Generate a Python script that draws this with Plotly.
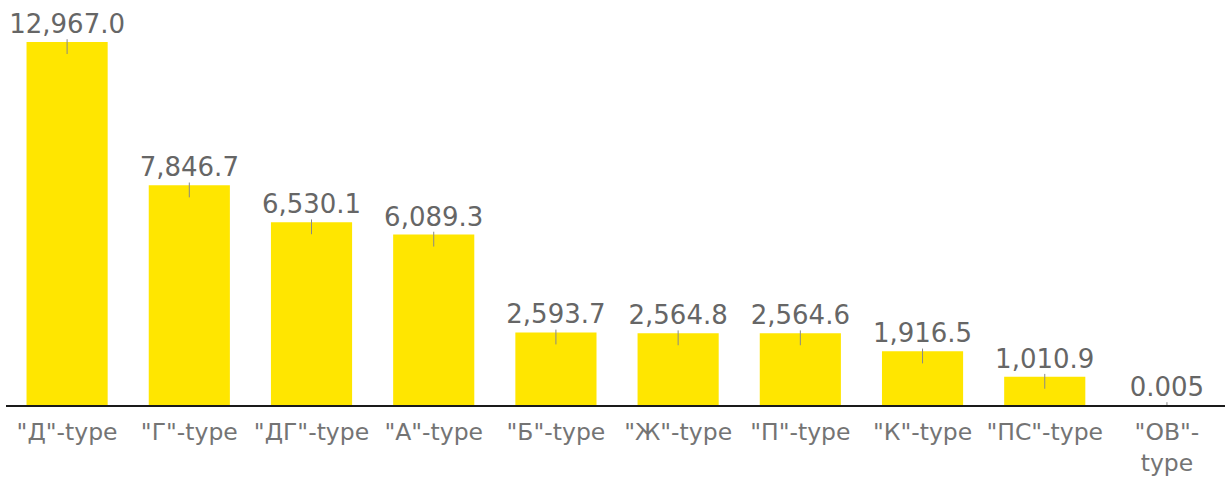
import plotly.graph_objects as go

# Categories and values
categories = ['"Д"-type', '"Г"-type', '"ДГ"-type', '"А"-type', '"Б"-type',
              '"Ж"-type', '"П"-type', '"К"-type', '"ПС"-type', '"ОВ"-<br>type']
values = [12967.0, 7846.7, 6530.1, 6089.3, 2593.7, 2564.8, 2564.6, 1916.5, 1010.9, 0.005]
decimals = [1, 1, 1, 1, 1, 1, 1, 1, 1, 3]

FONT = "DejaVu Sans"

fig = go.Figure(
    go.Bar(
        x=categories,
        y=values,
        marker=dict(color="#FFE600", line=dict(width=0)),
        texttemplate=["%{y:,." + str(d) + "f}" for d in decimals],
        textposition="outside",
        constraintext="none",
        textfont=dict(family=FONT, size=26, color="#666666"),
        cliponaxis=False,
        error_y=dict(type="constant", symmetric=False, value=100, valueminus=430,
                     color="#888888", thickness=1, width=0),
    )
)

fig.update_layout(
    width=1225,
    height=477,
    margin=dict(l=6, r=0, t=0, b=72),
    plot_bgcolor="white",
    paper_bgcolor="white",
    bargap=0.336,
    showlegend=False,
    xaxis=dict(
        range=[-0.5, 9.475],
        showline=True, linecolor="#1a1a1a", linewidth=2,
        ticks="", showgrid=False, ticklabelstandoff=5,
        tickfont=dict(family=FONT, size=23.5, color="#747474"),
    ),
    yaxis=dict(visible=False, range=[0, 14467]),
)

fig.write_html("out.html")
